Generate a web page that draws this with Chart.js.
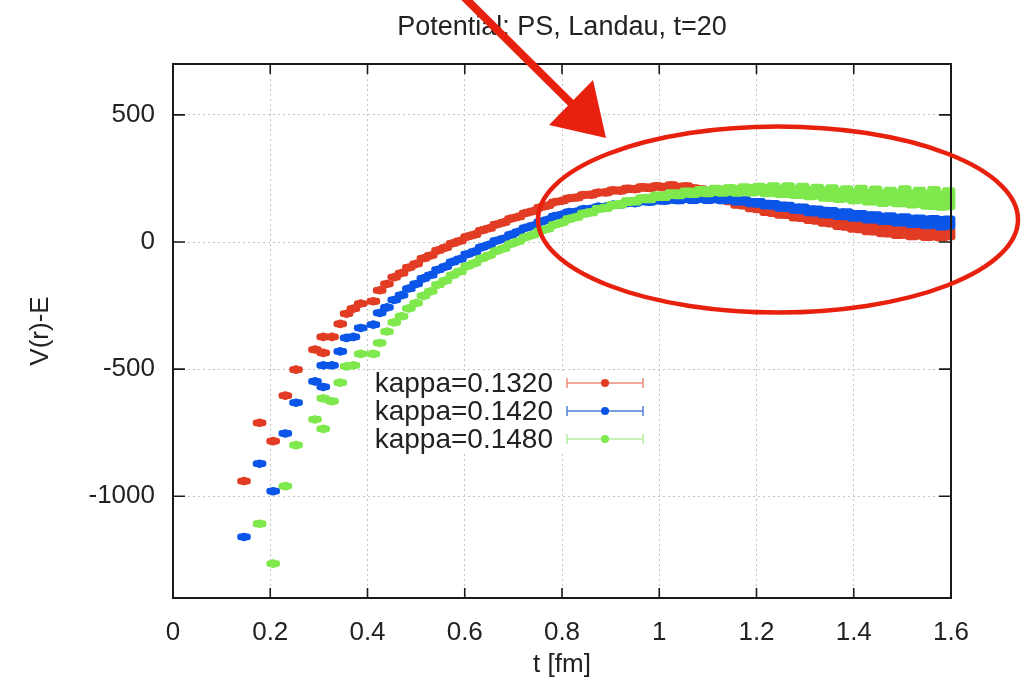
<!DOCTYPE html>
<html><head><meta charset="utf-8">
<script src="https://cdn.jsdelivr.net/npm/chart.js@4/dist/chart.umd.min.js"></script>
<style>html,body{margin:0;padding:0;background:#fff;}canvas{display:block}</style>
</head><body>
<canvas id="c" width="1021" height="685"></canvas>
<script>
const chartTitle = 'Potential: PS, Landau, t=20';
const xTitle = 't [fm]';
const yTitle = 'V(r)-E';
const seriesLabels = ['kappa=0.1320', 'kappa=0.1420', 'kappa=0.1480'];
const xTicks = [0, 0.2, 0.4, 0.6, 0.8, 1, 1.2, 1.4, 1.6];
const yTicks = [-1000, -500, 0, 500];

// distance t [fm] (shared by all three series)
const rFm = [0.146,0.178,0.206,0.231,0.253,0.292,0.309,0.309,0.327,0.344,0.357,0.371,0.386,0.412,0.425,
 0.440,0.455,0.470,0.485,0.500,0.515,0.530,0.545,0.560,0.575,0.590,0.605,0.620,0.635,0.650,0.665,0.680,0.695,0.710,0.725,
 0.740,0.755,0.770,0.785,0.800,0.815,0.830,0.845,0.860,0.875,0.890,0.905,0.920,0.935,0.950,0.965,0.980,0.995,1.010,1.025,
 1.040,1.055,1.070,1.085,1.100,1.115,1.130,1.145,1.160,1.175,1.190,1.205,1.220,1.235,1.250,1.265,1.280,1.295,1.310,1.325,
 1.340,1.355,1.370,1.385,1.400,1.415,1.430,1.445,1.460,1.475,1.490,1.505,1.520,1.535,1.550,1.565,1.580,1.595];

// kappa=0.1320
const vRed = [-940,-711,-783,-604,-502,-423,-436,-373,-373,-322,-282,-262,-242,-233,-190,
 -165,-138,-122,-100,-86,-64,-53,-33,-22,-5,4,21,29,46,54,69,77,92,99,114,
 121,136,143,157,162,172,175,185,186,194,195,203,202,209,208,215,213,219,216,222,
 216,218,210,206,194,186,171,163,150,146,136,132,122,119,112,111,102,100,92,90,
 82,79,70,68,60,58,51,50,43,43,37,38,33,35,30,32,29,33];
const eRed = [12,12,12,12,12,12,12,12,12,12,12,12,12,12,12,
 12,12,12,12,12,12,12,12,12,12,12,12,12,12,12,12,12,12,12,12,12,12,12,12,12,
 13,13,13,14,13,14,14,14,15,14,15,15,15,
 15,16,15,16,16,16,17,16,17,17,18,17,18,18,
 18,19,19,19,20,20,20,21,21,21,22,22,22,
 22,23,23,23,24,24,24,25,24,25,25,26,25];

// kappa=0.1420
const vBlue = [-1160,-872,-980,-753,-632,-548,-570,-485,-485,-430,-377,-373,-338,-325,-279,
 -257,-228,-209,-183,-165,-143,-130,-109,-97,-78,-67,-48,-38,-20,-11,5,13,29,40,56,
 64,79,87,102,108,118,120,130,131,139,139,147,147,154,153,160,158,164,162,167,
 165,170,166,171,167,170,166,167,162,162,155,154,147,146,139,138,131,130,123,122,
 116,115,109,109,103,103,97,97,91,92,86,87,81,82,77,79,74,76];
const eBlue = [12,12,12,12,12,12,12,12,12,12,12,12,12,12,12,
 12,12,12,12,12,12,12,12,12,12,12,12,12,12,12,12,12,12,12,12,12,12,12,12,12,12,12,12,12,12,12,
 12,13,13,13,13,14,14,14,14,15,15,15,15,16,16,
 16,16,17,17,17,18,18,18,19,19,19,20,20,20,21,21,
 21,22,22,22,23,23,23,24,24,25,25,25,26,26,27,27];

// kappa=0.1480
const vGreen = [null,-1108,-1265,-960,-799,-698,-735,-615,-626,-553,-489,-485,-440,-440,-397,
 -352,-316,-292,-261,-240,-212,-194,-168,-152,-130,-116,-95,-83,-64,-53,-35,-25,-7,2,19,
 28,44,52,68,76,91,98,112,117,130,134,145,148,159,161,170,171,180,180,188,
 187,194,193,199,197,203,200,205,201,207,203,208,202,206,199,204,196,201,192,198,
 188,193,184,190,180,188,176,183,172,180,172,180,168,176,165,173,162,170];
const eGreen = [12,12,12,12,12,12,12,12,12,12,12,12,12,12,12,
 12,12,12,12,12,12,12,12,12,12,12,12,12,12,12,12,12,12,12,12,12,12,12,12,12,
 13,13,14,14,14,15,15,15,16,16,16,17,17,
 17,18,18,19,19,20,20,21,21,22,22,23,23,24,
 25,28,25,30,26,31,27,30,28,33,29,32,30,
 36,31,38,33,36,34,42,35,40,37,46,38,44];

const colors = ['#e23c24', '#0b56e8', '#7fe84c'];
const legendLineColors = ['#ec8a78', '#4d7fd6', '#b4eea0'];
const FONT = '"Liberation Sans", Arial, Helvetica, sans-serif';

function makeBars(vals, errs) {
  const out = [];
  rFm.forEach((x, i) => {
    if (vals[i] === null) return;
    out.push({x: x, y: [vals[i] - errs[i], vals[i] + errs[i]]});
  });
  return out;
}
function makePoints(vals) {
  const out = [];
  rFm.forEach((x, i) => {
    if (vals[i] === null) return;
    out.push({x: x, y: vals[i]});
  });
  return out;
}

const series = [[vRed, eRed], [vBlue, eBlue], [vGreen, eGreen]];
const datasets = [];
series.forEach((s, i) => {
  // error bars (with caps, drawn as 13 px wide bars)
  datasets.push({
    type: 'bar',
    label: seriesLabels[i] + ' err',
    data: makeBars(s[0], s[1]),
    backgroundColor: colors[i],
    borderWidth: 0,
    borderRadius: 3,
    borderSkipped: false,
    barThickness: 13,
    grouped: false,
    clip: false,
    order: 6 - 2 * i
  });
  // points
  datasets.push({
    type: 'scatter',
    label: seriesLabels[i],
    data: makePoints(s[0]),
    backgroundColor: colors[i],
    pointBackgroundColor: colors[i],
    borderWidth: 0,
    pointBorderWidth: 0,
    pointRadius: 4.3,
    pointStyle: 'circle',
    showLine: false,
    clip: false,
    order: 5 - 2 * i
  });
});

const gpFrame = {
  id: 'gpFrame',
  afterDatasetsDraw(chart) {
    const {ctx, chartArea: a, scales: {x, y}} = chart;
    ctx.save();
    ctx.strokeStyle = '#1a1a1a';
    ctx.lineWidth = 1.6;
    ctx.beginPath();
    x.ticks.forEach(t => {
      const px = x.getPixelForValue(t.value);
      ctx.moveTo(px, a.bottom); ctx.lineTo(px, a.bottom - 10);
      ctx.moveTo(px, a.top); ctx.lineTo(px, a.top + 10);
    });
    y.ticks.forEach(t => {
      const py = y.getPixelForValue(t.value);
      ctx.moveTo(a.left, py); ctx.lineTo(a.left + 12, py);
      ctx.moveTo(a.right, py); ctx.lineTo(a.right - 12, py);
    });
    ctx.stroke();
    ctx.lineWidth = 2;
    ctx.strokeRect(a.left, a.top, a.right - a.left, a.bottom - a.top);

    // key (gnuplot style: text, then error-bar sample)
    ctx.fillStyle = '#ffffff';
    ctx.fillRect(368, 372, 284, 80);
    ctx.font = '28px ' + FONT;
    ctx.textAlign = 'right';
    ctx.textBaseline = 'middle';
    seriesLabels.forEach((lab, i) => {
      const yy = 383 + i * 28;
      ctx.fillStyle = '#222';
      ctx.fillText(lab, 553, yy + 1);
      ctx.strokeStyle = legendLineColors[i];
      ctx.lineWidth = 1.5;
      ctx.beginPath();
      ctx.moveTo(567, yy); ctx.lineTo(643, yy);
      ctx.moveTo(567, yy - 5); ctx.lineTo(567, yy + 5);
      ctx.moveTo(643, yy - 5); ctx.lineTo(643, yy + 5);
      ctx.stroke();
      ctx.fillStyle = colors[i];
      ctx.beginPath(); ctx.arc(605, yy, 4, 0, Math.PI * 2); ctx.fill();
    });
    ctx.restore();
  }
};

const markup = {
  id: 'markup',
  afterDraw(chart) {
    const ctx = chart.ctx;
    ctx.save();
    ctx.strokeStyle = '#e8200e';
    ctx.lineWidth = 4.5;
    ctx.beginPath();
    ctx.ellipse(778, 219.5, 240, 93, 0, 0, Math.PI * 2);
    ctx.stroke();
    ctx.lineWidth = 8;
    ctx.lineCap = 'round';
    ctx.beginPath();
    ctx.moveTo(463, -4); ctx.lineTo(578, 110);
    ctx.stroke();
    ctx.fillStyle = '#e8200e';
    ctx.beginPath();
    ctx.moveTo(549, 125); ctx.lineTo(593, 80); ctx.lineTo(606, 138); ctx.closePath();
    ctx.fill();
    ctx.restore();
  }
};

new Chart(document.getElementById('c'), {
  type: 'bar',
  data: {datasets: datasets},
  plugins: [gpFrame, markup],
  options: {
    responsive: false,
    animation: false,
    events: [],
    layout: {padding: {left: 0, right: 70, top: 0, bottom: 0}},
    plugins: {
      legend: {display: false},
      tooltip: {enabled: false},
      title: {
        display: true, text: chartTitle, fullSize: false, color: '#222',
        font: {family: FONT, size: 27, weight: 'normal'},
        padding: {top: 11, bottom: 20.6}
      }
    },
    scales: {
      x: {
        type: 'linear', min: 0, max: 1.6, offset: false,
        afterBuildTicks: s => { s.ticks = xTicks.map(v => ({value: v})); },
        afterFit: s => { s.height = 87; },
        grid: {color: '#c4c4c4', lineWidth: 1, drawTicks: false, offset: false},
        border: {display: false, dash: [2, 3]},
        ticks: {color: '#222', padding: 19, maxRotation: 0, font: {family: FONT, size: 26},
          callback: v => String(v)},
        title: {display: true, text: xTitle, color: '#222', font: {family: FONT, size: 26},
          padding: {top: 0, bottom: 4.4}}
      },
      y: {
        type: 'linear', min: -1400, max: 700,
        afterBuildTicks: s => { s.ticks = yTicks.map(v => ({value: v})); },
        afterFit: s => { s.width = 173; },
        grid: {color: '#c4c4c4', lineWidth: 1, drawTicks: false},
        border: {display: false, dash: [2, 3]},
        ticks: {color: '#222', padding: 18, font: {family: FONT, size: 26},
          callback: v => String(v)},
        title: {display: true, text: yTitle, color: '#222', font: {family: FONT, size: 26},
          padding: {top: 25, bottom: 0}}
      }
    }
  }
});
</script>
</body></html>
